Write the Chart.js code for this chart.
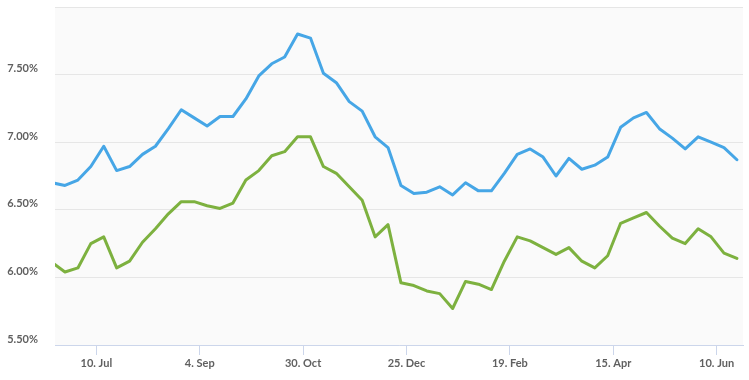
<!DOCTYPE html>
<html>
<head>
<meta charset="utf-8">
<script src="https://cdn.jsdelivr.net/npm/chart.js@4/dist/chart.umd.min.js"></script>
<style>
  html, body { margin: 0; padding: 0; background: #ffffff; }
  #wrap { width: 749px; height: 380px; position: relative; }
</style>
</head>
<body>
<div id="wrap"><canvas id="c" width="749" height="380"></canvas></div>
<script>
// Weekly observation dates
const categories = [
  '2019-06-16','2019-06-23','2019-06-30','2019-07-07','2019-07-14','2019-07-21','2019-07-28',
  '2019-08-04','2019-08-11','2019-08-18','2019-08-25','2019-09-01','2019-09-08','2019-09-15',
  '2019-09-22','2019-09-29','2019-10-06','2019-10-13','2019-10-20','2019-10-27','2019-11-03',
  '2019-11-10','2019-11-17','2019-11-24','2019-12-01','2019-12-08','2019-12-15','2019-12-22',
  '2019-12-29','2020-01-05','2020-01-12','2020-01-19','2020-01-26','2020-02-02','2020-02-09',
  '2020-02-16','2020-02-23','2020-03-01','2020-03-08','2020-03-15','2020-03-22','2020-03-29',
  '2020-04-05','2020-04-12','2020-04-19','2020-04-26','2020-05-03','2020-05-10','2020-05-17',
  '2020-05-24','2020-05-31','2020-06-07','2020-06-14','2020-06-21'
];
const blueSeries = [
  6.70, 6.68, 6.72, 6.82, 6.97, 6.79, 6.82, 6.91, 6.97, 7.10,
  7.24, 7.18, 7.12, 7.19, 7.19, 7.32, 7.49, 7.58, 7.63, 7.80,
  7.77, 7.51, 7.44, 7.30, 7.23, 7.04, 6.96, 6.68, 6.62, 6.63,
  6.67, 6.61, 6.70, 6.64, 6.64, 6.77, 6.91, 6.95, 6.89, 6.75,
  6.88, 6.80, 6.83, 6.89, 7.11, 7.18, 7.22, 7.10, 7.03, 6.95,
  7.04, 7.00, 6.96, 6.87
];
const greenSeries = [
  6.11, 6.04, 6.07, 6.25, 6.30, 6.07, 6.12, 6.26, 6.36, 6.47,
  6.56, 6.56, 6.53, 6.51, 6.55, 6.72, 6.79, 6.90, 6.93, 7.04,
  7.04, 6.82, 6.77, 6.67, 6.57, 6.30, 6.39, 5.96, 5.94, 5.90,
  5.88, 5.77, 5.97, 5.95, 5.91, 6.12, 6.30, 6.27, 6.22, 6.17,
  6.22, 6.12, 6.07, 6.16, 6.40, 6.44, 6.48, 6.38, 6.29, 6.25,
  6.36, 6.30, 6.18, 6.14
];
const tickDates = ['2019-07-10','2019-09-04','2019-10-30','2019-12-25','2020-02-19','2020-04-15','2020-06-10'];
const tickLabels = ['10. Jul','4. Sep','30. Oct','25. Dec','19. Feb','15. Apr','10. Jun'];
const yTicks = [5.5, 6.0, 6.5, 7.0, 7.5, 8.0];

function dayNum(s) {
  const p = s.split('-').map(Number);
  return Date.UTC(p[0], p[1] - 1, p[2]) / 86400000;
}
const xs = categories.map(dayNum);
const tickXs = tickDates.map(dayNum);

const plotBg = {
  id: 'plotBg',
  beforeDraw(chart) {
    const a = chart.chartArea, ctx = chart.ctx;
    ctx.save();
    ctx.fillStyle = '#fafafa';
    ctx.fillRect(a.left, a.top, a.right - a.left, a.bottom - a.top);
    ctx.restore();
  }
};

const font = { family: 'Lato, "Open Sans", sans-serif', size: 11, weight: 'bold' };

new Chart(document.getElementById('c'), {
  type: 'line',
  data: {
    datasets: [
      {
        label: 'Blue',
        data: blueSeries.map((v, i) => ({ x: xs[i], y: v })),
        borderColor: '#46a6e6',
        borderWidth: 3,
        pointRadius: 0,
        tension: 0,
        borderJoinStyle: 'round',
        borderCapStyle: 'round',
        clip: 0
      },
      {
        label: 'Green',
        data: greenSeries.map((v, i) => ({ x: xs[i], y: v })),
        borderColor: '#7db13f',
        borderWidth: 3,
        pointRadius: 0,
        tension: 0,
        borderJoinStyle: 'round',
        borderCapStyle: 'round',
        clip: 0
      }
    ]
  },
  options: {
    responsive: false,
    animation: false,
    devicePixelRatio: 1,
    layout: { padding: { top: 7, right: 6, left: 0, bottom: 0 } },
    plugins: { legend: { display: false }, tooltip: { enabled: false } },
    scales: {
      x: {
        type: 'linear',
        min: xs[0] + 1.6,
        max: xs[xs.length - 1] + 3.3,
        afterBuildTicks(scale) {
          scale.ticks = tickXs.map(v => ({ value: v }));
        },
        afterFit(scale) {
          scale.height = 35;
          scale.paddingLeft = 0;
          scale.paddingRight = 0;
        },
        ticks: {
          autoSkip: false,
          maxRotation: 0,
          padding: 2,
          color: '#606060',
          font: font,
          callback(value) {
            const k = tickXs.indexOf(value);
            return k >= 0 ? tickLabels[k] : '';
          }
        },
        grid: {
          drawOnChartArea: false,
          drawTicks: true,
          tickLength: 10,
          color: '#ccd6eb',
          lineWidth: 1
        },
        border: { display: true, color: '#ccd6eb', width: 1 }
      },
      y: {
        type: 'linear',
        min: 5.5,
        max: 8.0,
        afterBuildTicks(scale) {
          scale.ticks = yTicks.map(v => ({ value: v }));
        },
        afterFit(scale) {
          scale.width = 55;
          scale.paddingTop = 0;
          scale.paddingBottom = 0;
        },
        ticks: {
          padding: 17,
          labelOffset: -6,
          color: '#606060',
          font: font,
          callback(value) {
            return value >= 8 ? '' : value.toFixed(2) + '%';
          }
        },
        grid: {
          drawTicks: false,
          color: '#e6e6e6',
          lineWidth: 1
        },
        border: { display: false }
      }
    }
  },
  plugins: [plotBg]
});
</script>
</body>
</html>
